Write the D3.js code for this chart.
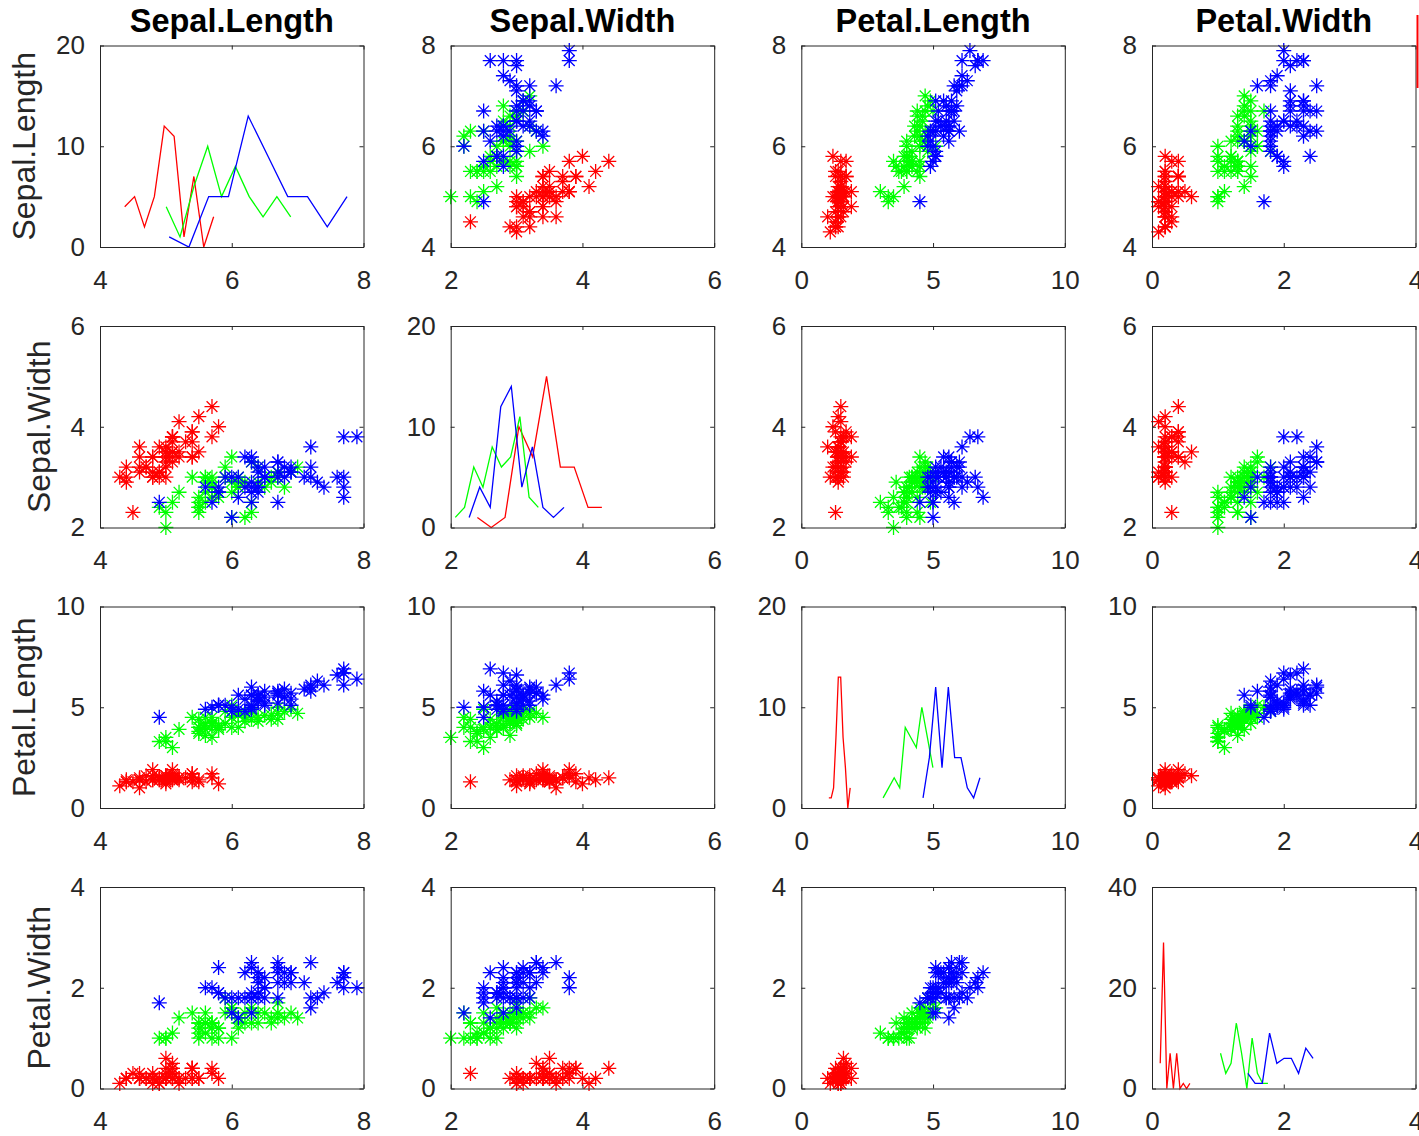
<!DOCTYPE html>
<html>
<head>
<meta charset="utf-8">
<script src="https://cdn.jsdelivr.net/npm/d3@7"></script>
<style>
  body { margin: 0; background: #fff; }
  svg { display: block; }
  text { font-family: "Liberation Sans", Arial, Helvetica, sans-serif; }
</style>
</head>
<body>
<svg id="chart" width="1419" height="1136"></svg>
<script>
// ---- data -------------------------------------------------------------
const variables = ["Sepal.Length", "Sepal.Width", "Petal.Length", "Petal.Width"];
const speciesNames = ["setosa", "versicolor", "virginica"];
const speciesColors = ["#ff0000", "#00ff00", "#0000ff"];

// measurements: sepal length, sepal width, petal length, petal width
const setosa = [
  [5.1,3.5,1.4,0.2],[4.9,3.0,1.4,0.2],[4.7,3.2,1.3,0.2],[4.6,3.1,1.5,0.2],[5.0,3.6,1.4,0.2],
  [5.4,3.9,1.7,0.4],[4.6,3.4,1.4,0.3],[5.0,3.4,1.5,0.2],[4.4,2.9,1.4,0.2],[4.9,3.1,1.5,0.1],
  [5.4,3.7,1.5,0.2],[4.8,3.4,1.6,0.2],[4.8,3.0,1.4,0.1],[4.3,3.0,1.1,0.1],[5.8,4.0,1.2,0.2],
  [5.7,4.4,1.5,0.4],[5.4,3.9,1.3,0.4],[5.1,3.5,1.4,0.3],[5.7,3.8,1.7,0.3],[5.1,3.8,1.5,0.3],
  [5.4,3.4,1.7,0.2],[5.1,3.7,1.5,0.4],[4.6,3.6,1.0,0.2],[5.1,3.3,1.7,0.5],[4.8,3.4,1.9,0.2],
  [5.0,3.0,1.6,0.2],[5.0,3.4,1.6,0.4],[5.2,3.5,1.5,0.2],[5.2,3.4,1.4,0.2],[4.7,3.2,1.6,0.2],
  [4.8,3.1,1.6,0.2],[5.4,3.4,1.5,0.4],[5.2,4.1,1.5,0.1],[5.5,4.2,1.4,0.2],[4.9,3.1,1.5,0.2],
  [5.0,3.2,1.2,0.2],[5.5,3.5,1.3,0.2],[4.9,3.6,1.4,0.1],[4.4,3.0,1.3,0.2],[5.1,3.4,1.5,0.2],
  [5.0,3.5,1.3,0.3],[4.5,2.3,1.3,0.3],[4.4,3.2,1.3,0.2],[5.0,3.5,1.6,0.6],[5.1,3.8,1.9,0.4],
  [4.8,3.0,1.4,0.3],[5.1,3.8,1.6,0.2],[4.6,3.2,1.4,0.2],[5.3,3.7,1.5,0.2],[5.0,3.3,1.4,0.2]
];
const versicolor = [
  [7.0,3.2,4.7,1.4],[6.4,3.2,4.5,1.5],[6.9,3.1,4.9,1.5],[5.5,2.3,4.0,1.3],[6.5,2.8,4.6,1.5],
  [5.7,2.8,4.5,1.3],[6.3,3.3,4.7,1.6],[4.9,2.4,3.3,1.0],[6.6,2.9,4.6,1.3],[5.2,2.7,3.9,1.4],
  [5.0,2.0,3.5,1.0],[5.9,3.0,4.2,1.5],[6.0,2.2,4.0,1.0],[6.1,2.9,4.7,1.4],[5.6,2.9,3.6,1.3],
  [6.7,3.1,4.4,1.4],[5.6,3.0,4.5,1.5],[5.8,2.7,4.1,1.0],[6.2,2.2,4.5,1.5],[5.6,2.5,3.9,1.1],
  [5.9,3.2,4.8,1.8],[6.1,2.8,4.0,1.3],[6.3,2.5,4.9,1.5],[6.1,2.8,4.7,1.2],[6.4,2.9,4.3,1.3],
  [6.6,3.0,4.4,1.4],[6.8,2.8,4.8,1.4],[6.7,3.0,5.0,1.7],[6.0,2.9,4.5,1.5],[5.7,2.6,3.5,1.0],
  [5.5,2.4,3.8,1.1],[5.5,2.4,3.7,1.0],[5.8,2.7,3.9,1.2],[6.0,2.7,5.1,1.6],[5.4,3.0,4.5,1.5],
  [6.0,3.4,4.5,1.6],[6.7,3.1,4.7,1.5],[6.3,2.3,4.4,1.3],[5.6,3.0,4.1,1.3],[5.5,2.5,4.0,1.3],
  [5.5,2.6,4.4,1.2],[6.1,3.0,4.6,1.4],[5.8,2.6,4.0,1.2],[5.0,2.3,3.3,1.0],[5.6,2.7,4.2,1.3],
  [5.7,3.0,4.2,1.2],[5.7,2.9,4.2,1.3],[6.2,2.9,4.3,1.3],[5.1,2.5,3.0,1.1],[5.7,2.8,4.1,1.3]
];
const virginica = [
  [6.3,3.3,6.0,2.5],[5.8,2.7,5.1,1.9],[7.1,3.0,5.9,2.1],[6.3,2.9,5.6,1.8],[6.5,3.0,5.8,2.2],
  [7.6,3.0,6.6,2.1],[4.9,2.5,4.5,1.7],[7.3,2.9,6.3,1.8],[6.7,2.5,5.8,1.8],[7.2,3.6,6.1,2.5],
  [6.5,3.2,5.1,2.0],[6.4,2.7,5.3,1.9],[6.8,3.0,5.5,2.1],[5.7,2.5,5.0,2.0],[5.8,2.8,5.1,2.4],
  [6.4,3.2,5.3,2.3],[6.5,3.0,5.5,1.8],[7.7,3.8,6.7,2.2],[7.7,2.6,6.9,2.3],[6.0,2.2,5.0,1.5],
  [6.9,3.2,5.7,2.3],[5.6,2.8,4.9,2.0],[7.7,2.8,6.7,2.0],[6.3,2.7,4.9,1.8],[6.7,3.3,5.7,2.1],
  [7.2,3.2,6.0,1.8],[6.2,2.8,4.8,1.8],[6.1,3.0,4.9,1.8],[6.4,2.8,5.6,2.1],[7.2,3.0,5.8,1.6],
  [7.4,2.8,6.1,1.9],[7.9,3.8,6.4,2.0],[6.4,2.8,5.6,2.2],[6.3,2.8,5.1,1.5],[6.1,2.6,5.6,1.4],
  [7.7,3.0,6.1,2.3],[6.3,3.4,5.6,2.4],[6.4,3.1,5.5,1.8],[6.0,3.0,4.8,1.8],[6.9,3.1,5.4,2.1],
  [6.7,3.1,5.6,2.4],[6.9,3.1,5.1,2.3],[5.8,2.7,5.1,1.9],[6.8,3.2,5.9,2.3],[6.7,3.3,5.7,2.5],
  [6.7,3.0,5.2,2.3],[6.3,2.5,5.0,1.9],[6.5,3.0,5.2,2.0],[6.2,3.4,5.4,2.3],[5.9,3.0,5.1,1.8]
];
const speciesData = [setosa, versicolor, virginica];

// frequency polygons on the diagonal: bin centres and counts (setosa, versicolor, virginica)
const sepalLengthBins = [
  [4.375,4.525,4.675,4.825,4.975,5.125,5.275,5.425,5.575,5.725],
  [5.005,5.215,5.425,5.635,5.845,6.055,6.265,6.475,6.685,6.895],
  [5.05,5.35,5.65,5.95,6.25,6.55,6.85,7.15,7.45,7.75]
];
const sepalLengthCounts = [
  [4,5,2,5,12,11,1,7,0,3],
  [4,1,6,10,5,8,5,3,5,3],
  [1,0,5,5,13,9,5,5,2,5]
];
const sepalWidthBins = [
  [2.405,2.615,2.825,3.035,3.245,3.455,3.665,3.875,4.085,4.295],
  [2.07,2.21,2.35,2.49,2.63,2.77,2.91,3.05,3.19,3.33],
  [2.28,2.44,2.60,2.76,2.92,3.08,3.24,3.40,3.56,3.72]
];
const sepalWidthCounts = [
  [1,0,1,10,7,15,6,6,2,2],
  [1,2,6,4,8,6,7,11,3,2],
  [1,4,2,12,14,4,8,2,1,2]
];
const petalLengthBins = [
  [1.045,1.135,1.225,1.315,1.405,1.495,1.585,1.675,1.765,1.855],
  [3.105,3.315,3.525,3.735,3.945,4.155,4.365,4.575,4.785,4.995],
  [4.62,4.86,5.10,5.34,5.58,5.82,6.06,6.30,6.54,6.78]
];
const petalLengthCounts = [
  [1,1,2,7,13,13,7,4,0,2],
  [1,2,3,2,8,7,6,10,7,4],
  [1,5,12,4,12,5,5,2,1,3]
];
const petalWidthBins = [
  [0.125,0.175,0.225,0.275,0.325,0.375,0.425,0.475,0.525,0.575],
  [1.04,1.12,1.20,1.28,1.36,1.44,1.52,1.60,1.68,1.76],
  [1.455,1.565,1.675,1.785,1.895,2.005,2.115,2.225,2.335,2.445]
];
const petalWidthCounts = [
  [5,29,0,7,0,7,0,1,0,1],
  [7,3,5,13,7,0,10,3,1,1],
  [3,1,1,11,5,6,6,3,8,6]
];
const histBins = [sepalLengthBins, sepalWidthBins, petalLengthBins, petalWidthBins];
const histCounts = [sepalLengthCounts, sepalWidthCounts, petalLengthCounts, petalWidthCounts];

// axis limits and tick marks
const valueDomains = [[4, 8], [2, 6], [0, 10], [0, 4]];
const valueTicks = [[4, 6, 8], [2, 4, 6], [0, 5, 10], [0, 2, 4]];
const countDomains = [[0, 20], [0, 20], [0, 20], [0, 40]];
const countTicks = [[0, 10, 20], [0, 10, 20], [0, 10, 20], [0, 20, 40]];

// ---- layout -----------------------------------------------------------
const colLeft = [100, 450.7, 801.3, 1152];
const rowTop = [45.5, 326, 606.5, 887];
const cellW = 263.5;
const cellH = 201.5;
const axisColor = "#262626";
const tickFont = 26;

const svg = d3.select("#chart");

// asterisk marker: plus and cross superimposed
const arm = 7.5, diag = 5.4;
const asterisk = `M${-arm},0H${arm}M0,${-arm}V${arm}M${-diag},${-diag}L${diag},${diag}M${-diag},${diag}L${diag},${-diag}`;

function styleAxis(g, showLabels) {
  g.select(".domain").attr("stroke", axisColor).attr("stroke-width", 1);
  g.selectAll(".tick line").attr("stroke", axisColor).attr("stroke-width", 1);
  g.attr("font-size", tickFont).attr("font-family", null);
  g.selectAll(".tick text").attr("fill", axisColor);
  if (!showLabels) g.selectAll(".tick text").remove();
}

for (let r = 0; r < 4; r++) {
  for (let c = 0; c < 4; c++) {
    const g = svg.append("g").attr("transform", `translate(${colLeft[c]},${rowTop[r]})`);
    const x = d3.scaleLinear().domain(valueDomains[c]).range([0, cellW]);
    const diagCell = r === c;
    const y = d3.scaleLinear()
      .domain(diagCell ? countDomains[r] : valueDomains[r])
      .range([cellH, 0]);
    const yTicks = diagCell ? countTicks[r] : valueTicks[r];

    // data marks
    if (diagCell) {
      const line = d3.line().x(d => x(d[0])).y(d => y(d[1]));
      speciesNames.forEach((s, k) => {
        const pts = histBins[r][k].map((b, i) => [b, histCounts[r][k][i]]);
        g.append("path")
          .attr("d", line(pts))
          .attr("fill", "none")
          .attr("stroke", speciesColors[k])
          .attr("stroke-width", 1.3)
          .attr("stroke-linejoin", "miter");
      });
    } else {
      speciesNames.forEach((s, k) => {
        g.append("g")
          .selectAll("path")
          .data(speciesData[k])
          .join("path")
          .attr("d", asterisk)
          .attr("transform", d => `translate(${x(d[c])},${y(d[r])})`)
          .attr("fill", "none")
          .attr("stroke", speciesColors[k])
          .attr("stroke-width", 1.3);
      });
    }

    // box axes with inward ticks
    g.append("g").attr("transform", `translate(0,${cellH})`)
      .call(d3.axisBottom(x).tickValues(valueTicks[c]).tickFormat(d3.format("d"))
        .tickSizeInner(-4).tickSizeOuter(0).tickPadding(23.5))
      .call(a => styleAxis(a, true));
    g.append("g")
      .call(d3.axisTop(x).tickValues(valueTicks[c]).tickSizeInner(-4).tickSizeOuter(0))
      .call(a => styleAxis(a, false));
    const leftAxis = g.append("g")
      .call(d3.axisLeft(y).tickValues(yTicks).tickFormat(d3.format("d"))
        .tickSizeInner(-4).tickSizeOuter(0).tickPadding(15))
      .call(a => styleAxis(a, true));
    g.append("g").attr("transform", `translate(${cellW},0)`)
      .call(d3.axisRight(y).tickValues(yTicks).tickSizeInner(-4).tickSizeOuter(0))
      .call(a => styleAxis(a, false));

    // column titles
    if (r === 0) {
      g.append("text")
        .attr("x", cellW / 2).attr("y", -13.5)
        .attr("text-anchor", "middle")
        .attr("font-size", 32.5).attr("font-weight", "bold")
        .attr("fill", "#000")
        .text(variables[c]);
    }

    // row labels, placed just left of the widest tick label
    if (c === 0) {
      let minX = 0;
      leftAxis.selectAll(".tick text").each(function () {
        const b = this.getBBox();
        minX = Math.min(minX, b.x - 15);
      });
      const bx = minX - 6;
      g.append("text")
        .attr("transform", `translate(${bx},${cellH / 2}) rotate(-90)`)
        .attr("text-anchor", "middle")
        .attr("font-size", 32)
        .attr("fill", axisColor)
        .text(variables[r]);
    }
  }
}

// legend sample line for setosa at the right edge
svg.append("line")
  .attr("x1", 1417.5).attr("x2", 1417.5)
  .attr("y1", 15).attr("y2", 88)
  .attr("stroke", speciesColors[0])
  .attr("stroke-width", 2);
</script>
</body>
</html>
